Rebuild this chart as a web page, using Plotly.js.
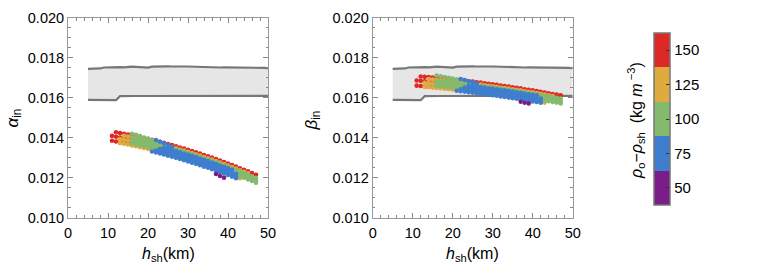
<!DOCTYPE html>
<html><head><meta charset="utf-8">
<script src="https://cdn.plot.ly/plotly-3.0.1.min.js"></script>
<style>html,body{margin:0;padding:0;background:#fff}#chart{width:763px;height:277px}</style>
</head><body><div id="chart"></div>
<script>
// ---- data (alpha / beta values in units of 1e-3) ----
const h_sh = [11,12,13,14,15,16,17,18,19,20,21,22,23,24,25,26,27,28,29,30,31,32,33,34,35,36,37,38,39,40,41,42,43,44,45,46,47];

// alpha_in, red bin (150)
const alphaRed0 = [null,14.27,14.23,14.20,14.16,14.11,14.07,14.03,13.98,13.94,13.89,13.84,13.79,13.74,13.68,13.63,13.57,13.51,13.45,13.39,13.33,13.27,13.20,13.13,13.07,13.00,12.93,12.85,12.78,12.71,12.63,12.55,12.47,12.39,12.31,12.23,12.14];
const alphaRed1 = [14.09,14.05,14.01,13.98,13.94,13.89,13.85,13.81,13.76,13.72,13.67,13.62,13.57,13.52,13.46,13.41,13.35,13.29,13.23,13.17,13.11,13.05,12.98,12.91,12.85,12.78,12.71,12.63,12.56,12.49,12.41,12.33,12.25,12.17,12.09,12.01,null];
const alphaRed2 = [13.85,13.81,13.77,13.74,13.70,13.65,13.61,13.57,13.52,13.48,13.43,13.38,13.33,13.28,13.22,13.17,13.11,13.05,12.99,12.93,12.87,12.81,12.74,12.67,12.61,12.54,12.47,12.39,12.32,12.25,12.17,12.09,null,null,null,null,null];
// orange bin (125)
const alphaOrange0 = [null,null,null,14.10,14.06,14.01,13.97,13.93,13.88,13.84,13.79,13.74,13.69,13.64,13.58,13.53,13.47,13.41,13.35,13.29,13.23,13.17,13.10,13.03,12.97,12.90,12.83,12.75,12.68,12.61,12.53,12.45,12.37,12.29,12.21,null,null];
const alphaOrange1 = [null,null,13.93,13.90,13.86,13.81,13.77,13.73,13.68,13.64,13.59,13.54,13.49,13.44,13.38,13.33,13.27,13.21,13.15,13.09,13.03,12.97,12.90,12.83,12.77,12.70,12.63,12.55,12.48,12.41,12.33,12.25,12.17,12.09,12.01,null,null];
const alphaOrange2 = [null,null,13.73,13.70,13.66,13.61,13.57,13.53,13.48,13.44,13.39,13.34,13.29,13.24,13.18,13.13,13.07,13.01,12.95,12.89,12.83,12.77,12.70,12.63,12.57,12.50,12.43,12.35,12.28,12.21,12.13,12.05,11.97,null,null,null,null];
// green bin (100)
const alphaGreenX = [null,null,null,null,null,14.20,14.14,14.08,14.01,13.95,13.88,13.81,null,null,null,null,null,null,null,null,null,null,null,null,null,null,null,null,null,null,null,null,null,null,null,null,null];
const alphaGreen0 = [null,null,null,null,null,13.95,13.91,13.87,13.82,13.78,13.73,13.68,13.63,13.58,13.52,13.47,13.41,13.35,13.29,13.23,13.17,13.11,13.04,12.97,12.91,12.84,12.77,12.69,12.62,12.55,12.47,12.39,12.31,12.23,12.15,12.07,11.98];
const alphaGreen1 = [null,null,null,null,null,13.83,13.79,13.75,13.70,13.66,13.61,13.56,13.51,13.46,13.40,13.35,13.29,13.23,13.17,13.11,13.05,12.99,12.92,12.85,12.79,12.72,12.65,12.57,12.50,12.43,12.35,12.27,12.19,12.11,12.03,11.95,11.86];
const alphaGreen2 = [null,null,null,null,null,13.71,13.67,13.63,13.58,13.54,13.49,13.44,13.39,13.34,13.28,13.23,13.17,13.11,13.05,12.99,12.93,12.87,12.80,12.73,12.67,12.60,12.53,12.45,12.38,12.31,12.23,12.15,12.07,11.99,11.91,11.83,11.74];
// blue bin (75)
const alphaBlueX = [null,null,null,null,null,null,null,null,null,null,null,13.88,13.80,13.72,13.63,13.54,null,null,null,null,null,null,null,null,null,null,null,null,null,null,null,null,null,null,null,null,null];
const alphaBlue0 = [null,null,null,null,null,null,null,null,null,null,null,null,null,13.50,13.44,13.39,13.33,13.27,13.21,13.15,13.09,13.03,12.96,12.89,12.83,12.76,12.69,12.61,12.54,12.47,12.39,null,null,null,null,null,null];
const alphaBlue1 = [null,null,null,null,null,null,null,null,null,null,null,null,13.43,13.38,13.32,13.27,13.21,13.15,13.09,13.03,12.97,12.91,12.84,12.77,12.71,12.64,12.57,12.49,12.42,12.35,12.27,12.19,null,null,null,null,null];
const alphaBlue2 = [null,null,null,null,null,null,null,null,null,null,null,13.36,13.31,13.26,13.20,13.15,13.09,13.03,12.97,12.91,12.85,12.79,12.72,12.65,12.59,12.52,12.45,12.37,12.30,12.23,12.15,12.07,null,null,null,null,null];
const alphaBlue3 = [null,null,null,null,null,null,null,null,null,null,13.31,13.26,13.21,13.16,13.10,13.05,12.99,12.93,12.87,12.81,12.75,12.69,12.62,12.55,12.49,12.42,12.35,12.27,12.20,12.13,12.05,11.97,null,null,null,null,null];
// purple bin (50)
const alphaPurple = [null,null,null,null,null,null,null,null,null,null,null,null,null,null,null,null,null,null,null,null,null,null,null,null,null,null,12.18,12.08,11.99,null,null,null,null,null,null,null,null];

// beta_in
const betaRed0 = [null,17.07,17.05,17.04,17.02,17.00,16.98,16.96,16.94,16.92,16.90,16.88,16.86,16.83,16.81,16.78,16.76,16.73,16.70,16.68,16.65,16.62,16.59,16.56,16.53,16.50,16.47,16.43,16.40,16.37,16.34,16.30,16.26,16.23,16.19,16.16,16.12];
const betaRed1 = [16.87,16.85,16.83,16.82,16.80,16.78,16.76,16.74,16.72,16.70,16.68,16.66,16.64,16.61,16.59,16.56,16.54,16.51,16.48,16.46,16.43,16.40,16.37,16.34,16.31,16.28,16.25,16.21,16.18,16.15,16.12,16.08,16.04,16.01,15.97,15.94,null];
const betaRed2 = [16.61,16.59,16.57,16.56,16.54,16.52,16.50,16.48,16.46,16.44,16.42,16.40,16.38,16.35,16.33,16.30,16.28,16.25,16.22,16.20,16.17,16.14,16.11,16.08,16.05,16.02,15.99,15.95,15.92,15.89,15.86,15.82,null,null,null,null,null];
const betaOrange0 = [null,null,null,16.94,16.92,16.90,16.88,16.86,16.84,16.82,16.80,16.78,16.76,16.73,16.71,16.68,16.66,16.63,16.60,16.58,16.55,16.52,16.49,16.46,16.43,16.40,16.37,16.33,16.30,16.27,16.24,16.20,16.16,16.13,16.09,null,null];
const betaOrange1 = [null,null,16.75,16.74,16.72,16.70,16.68,16.66,16.64,16.62,16.60,16.58,16.56,16.53,16.51,16.48,16.46,16.43,16.40,16.38,16.35,16.32,16.29,16.26,16.23,16.20,16.17,16.13,16.10,16.07,16.04,16.00,15.96,15.93,15.89,null,null];
const betaOrange2 = [null,null,16.55,16.54,16.52,16.50,16.48,16.46,16.44,16.42,16.40,16.38,16.36,16.33,16.31,16.28,16.26,16.23,16.20,16.18,16.15,16.12,16.09,16.06,16.03,16.00,15.97,15.93,15.90,15.87,15.84,15.80,15.76,null,null,null,null];
const betaGreenX = [null,null,null,null,null,17.12,17.08,17.04,17.00,16.96,16.92,16.88,null,null,null,null,null,null,null,null,null,null,null,null,null,null,null,null,null,null,null,null,null,null,null,null,null];
const betaGreen0 = [null,null,null,null,null,16.84,16.82,16.80,16.78,16.76,16.74,16.72,16.70,16.67,16.65,16.62,16.60,16.57,16.54,16.52,16.49,16.46,16.43,16.40,16.37,16.34,16.31,16.27,16.24,16.21,16.18,16.14,16.10,16.07,16.03,16.00,15.96];
const betaGreen1 = [null,null,null,null,null,16.72,16.70,16.68,16.66,16.64,16.62,16.60,16.58,16.55,16.53,16.50,16.48,16.45,16.42,16.40,16.37,16.34,16.31,16.28,16.25,16.22,16.19,16.15,16.12,16.09,16.06,16.02,15.98,15.95,15.91,15.88,15.84];
const betaGreen2 = [null,null,null,null,null,16.60,16.58,16.56,16.54,16.52,16.50,16.48,16.46,16.43,16.41,16.38,16.36,16.33,16.30,16.28,16.25,16.22,16.19,16.16,16.13,16.10,16.07,16.03,16.00,15.97,15.94,15.90,15.86,15.83,15.79,15.76,15.72];
const betaBlueX = [null,null,null,null,null,null,null,null,null,null,null,16.94,16.89,16.83,16.78,16.71,null,null,null,null,null,null,null,null,null,null,null,null,null,null,null,null,null,null,null,null,null];
const betaBlue0 = [null,null,null,null,null,null,null,null,null,null,null,null,null,16.61,16.59,16.56,16.54,16.51,16.48,16.46,16.43,16.40,16.37,16.34,16.31,16.28,16.25,16.21,16.18,16.15,16.12,null,null,null,null,null,null];
const betaBlue1 = [null,null,null,null,null,null,null,null,null,null,null,null,16.52,16.49,16.47,16.44,16.42,16.39,16.36,16.34,16.31,16.28,16.25,16.22,16.19,16.16,16.13,16.09,16.06,16.03,16.00,15.96,null,null,null,null,null];
const betaBlue2 = [null,null,null,null,null,null,null,null,null,null,null,16.42,16.40,16.37,16.35,16.32,16.30,16.27,16.24,16.22,16.19,16.16,16.13,16.10,16.07,16.04,16.01,15.97,15.94,15.91,15.88,15.84,null,null,null,null,null];
const betaBlue3 = [null,null,null,null,null,null,null,null,null,null,16.35,16.33,16.31,16.28,16.26,16.23,16.21,16.18,16.15,16.13,16.10,16.07,16.04,16.01,15.98,15.95,15.92,15.88,15.85,15.82,15.79,15.75,null,null,null,null,null];
const betaPurple = [null,null,null,null,null,null,null,null,null,null,null,null,null,null,null,null,null,null,null,null,null,null,null,null,null,null,15.80,15.75,15.72,null,null,null,null,null,null,null,null];

// observational band (same in both panels), units 1e-3
const h_band = [5,6,7,8,9,10,11,12,13,14,15,16,17,18,19,20,21,22,23,24,25,26,27,28,29,30,31,32,33,34,35,36,37,38,39,40,41,42,43,44,45,46,47,48,49,50];
const band_upper = [17.45,17.45,17.46,17.47,17.52,17.53,17.52,17.53,17.54,17.53,17.55,17.56,17.55,17.53,17.52,17.51,17.56,17.57,17.57,17.60,17.58,17.57,17.56,17.56,17.57,17.57,17.56,17.55,17.55,17.54,17.53,17.53,17.52,17.52,17.53,17.53,17.52,17.52,17.52,17.53,17.53,17.52,17.51,17.51,17.50,17.49];
const band_lower = [15.90,15.90,15.89,15.88,15.89,15.89,15.88,15.88,16.08,16.09,16.09,16.09,16.09,16.09,16.09,16.09,16.10,16.10,16.10,16.10,16.10,16.10,16.10,16.10,16.10,16.10,16.10,16.10,16.10,16.10,16.10,16.10,16.10,16.10,16.10,16.10,16.10,16.10,16.10,16.10,16.10,16.10,16.10,16.10,16.10,16.10];

// colour bins (density contrast, kg m^-3)
const rhoBins = [50,75,100,125,150];
const binColors = ['#7B1D89','#3F7ECE','#84BA6E','#DFAA3E','#DE2826'];
const xTicks = [0,10,20,30,40,50];
const yTicks = [0.010,0.012,0.014,0.016,0.018,0.020];

// ---- build ----
const toUnits = a => a.map(v => v === null ? null : v / 1000);
const alphaGroups = [
  [alphaRed0,4],[alphaRed1,4],[alphaRed2,4],
  [alphaOrange0,3],[alphaOrange1,3],[alphaOrange2,3],
  [alphaGreenX,2],[alphaGreen0,2],[alphaGreen1,2],[alphaGreen2,2],
  [alphaBlueX,1],[alphaBlue0,1],[alphaBlue1,1],[alphaBlue2,1],[alphaBlue3,1],
  [alphaPurple,0]
];
const betaGroups = [
  [betaRed0,4],[betaRed1,4],[betaRed2,4],
  [betaOrange0,3],[betaOrange1,3],[betaOrange2,3],
  [betaGreenX,2],[betaGreen0,2],[betaGreen1,2],[betaGreen2,2],
  [betaBlueX,1],[betaBlue0,1],[betaBlue1,1],[betaBlue2,1],[betaBlue3,1],
  [betaPurple,0]
];

const traces = [];
function addBand(xa, ya) {
  traces.push({type:'scatter', mode:'lines', x:h_band, y:toUnits(band_lower), xaxis:xa, yaxis:ya,
    line:{color:'#777777', width:2.2}, hoverinfo:'skip', showlegend:false});
  traces.push({type:'scatter', mode:'lines', x:h_band, y:toUnits(band_upper), xaxis:xa, yaxis:ya,
    fill:'tonexty', fillcolor:'#e6e6e6', line:{color:'#777777', width:2.2}, hoverinfo:'skip', showlegend:false});
}
function addPoints(groups, xa, ya) {
  groups.forEach(([arr, ci]) => {
    traces.push({type:'scatter', mode:'markers', x:h_sh, y:toUnits(arr), xaxis:xa, yaxis:ya,
      marker:{color:binColors[ci], size:4.6, line:{width:0}}, showlegend:false,
      name: rhoBins[ci] + ' kg m-3'});
  });
}
addBand('x','y');
addBand('x2','y2');
addPoints(alphaGroups,'x','y');
addPoints(betaGroups,'x2','y2');

// colorbar carrier
const cs = [];
binColors.forEach((c,i) => { cs.push([i/5, c]); cs.push([(i+1)/5, c]); });
traces.push({type:'scatter', mode:'markers', x:[null], y:[null], xaxis:'x', yaxis:'y', showlegend:false, hoverinfo:'skip',
  marker:{color:rhoBins, colorscale:cs, cmin:37.5, cmax:162.5, showscale:true, size:0.1,
    colorbar:{x:654/763, xanchor:'left', y:1-119/277, yanchor:'middle', len:172/277, lenmode:'fraction',
      thickness:16, thicknessmode:'pixels', xpad:0, ypad:0, outlinewidth:1.5, outlinecolor:'#777',
      tickvals:rhoBins, ticks:'inside', ticklen:4, tickcolor:'#333', tickwidth:1,
      tickfont:{family:'Liberation Sans, Arial, sans-serif', size:15, color:'#000'}}}});

const font = {family:'Liberation Sans, Arial, sans-serif', size:14.5, color:'#000'};
function xax(dom, anchor) {
  return {domain:dom, anchor:anchor, range:[0,50], tickvals:xTicks, ticks:'inside', ticklen:5, tickcolor:'#888',
    showline:true, linecolor:'#999', linewidth:1, mirror:'ticks', showgrid:false, zeroline:false, tickfont:font,
    ticklabelstandoff:2,
    minor:{ticks:'inside', ticklen:2.5, dtick:2, tickcolor:'#888', showgrid:false}};
}
function yax(anchor) {
  return {domain:[1-217.5/277, 1-18/277], anchor:anchor, range:[0.010,0.020], tickvals:yTicks, tickformat:'.3f',
    ticks:'inside', ticklen:5, tickcolor:'#888', showline:true, linecolor:'#999', linewidth:1, mirror:'ticks',
    showgrid:false, zeroline:false, tickfont:font,
    minor:{ticks:'inside', ticklen:2.5, dtick:0.0005, tickcolor:'#888', showgrid:false}};
}
const tfont = {family:'Liberation Sans, Arial, sans-serif', size:16, color:'#000'};
const ann = (x, y, text, extra) => Object.assign({xref:'paper', yref:'paper', x:x/763, y:1-y/277, text:text,
  xanchor:'center', yanchor:'middle', showarrow:false, font:tfont}, extra || {});
const layout = {
  width:763, height:277, margin:{l:0,r:0,t:0,b:0}, paper_bgcolor:'#fff', plot_bgcolor:'#fff', showlegend:false,
  xaxis: xax([68/763, 268/763], 'y'),
  yaxis: yax('x'),
  xaxis2: xax([372.7/763, 572.7/763], 'y2'),
  yaxis2: yax('x2'),
  annotations:[
    ann(13.5, 118, '<i>α</i><sub>in</sub>', {textangle:-90, font:{...tfont, size:17}}),
    ann(312.5, 121, '<i>β</i><sub>in</sub>', {textangle:-90, font:{...tfont, size:17}}),
    ann(168, 254, '<i>h</i><sub>sh</sub>(km)'),
    ann(472.7, 254, '<i>h</i><sub>sh</sub>(km)'),
    ann(636, 121, '<i>ρ</i><sub>o</sub>−<i>ρ</i><sub>sh</sub>  (kg <i>m</i><sup> −3</sup>)', {textangle:-90})
  ]
};
Plotly.newPlot('chart', traces, layout, {staticPlot:true, displayModeBar:false});
</script>
</body></html>
